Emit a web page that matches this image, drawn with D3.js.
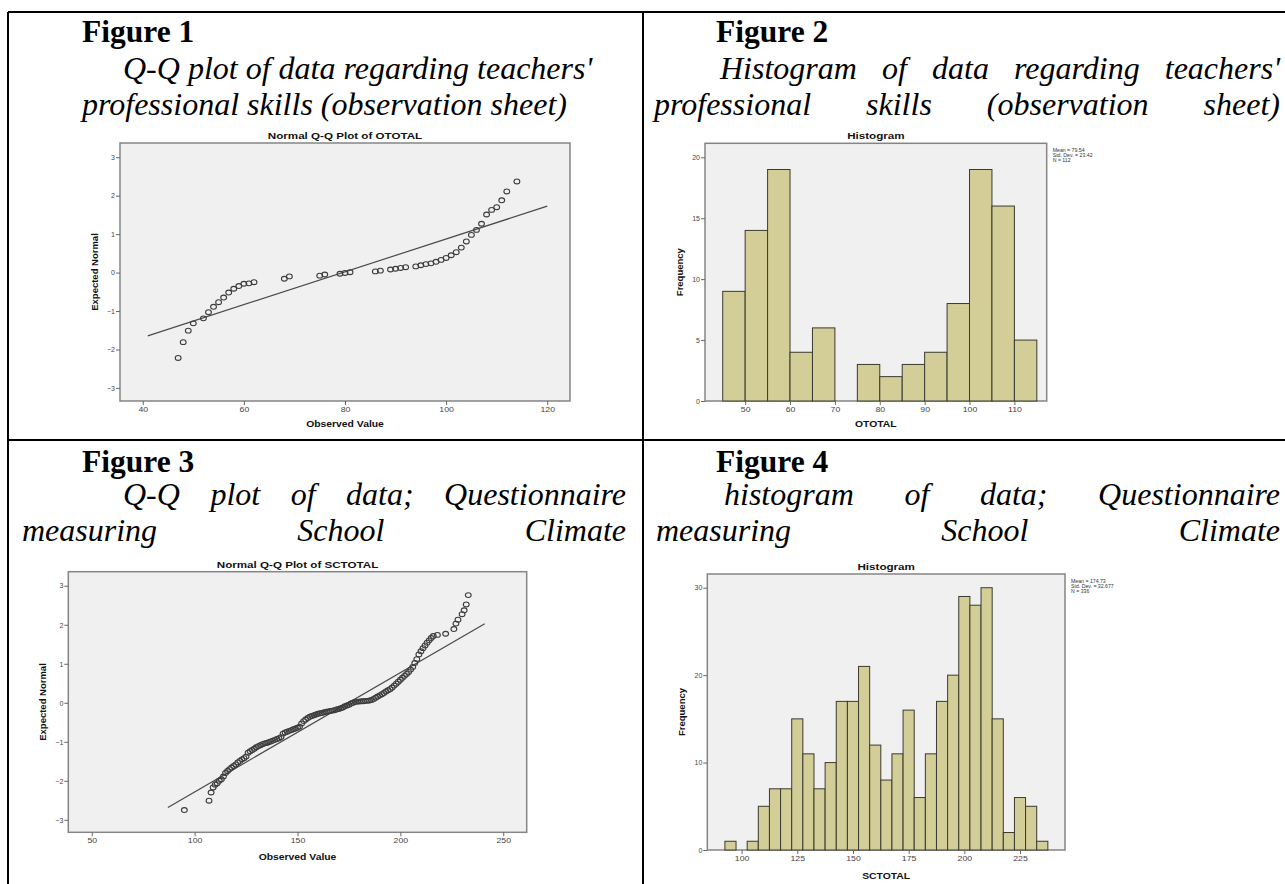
<!DOCTYPE html>
<html>
<head>
<meta charset="utf-8">
<script src="https://cdn.jsdelivr.net/npm/d3@7"></script>
<style>
  body { margin: 0; background: #fff; }
  svg { display: block; }
</style>
</head>
<body>
<svg id="page" width="1285" height="884"></svg>
<script>
// ---- data ----
const qq1Observed = [47, 48, 49, 50, 52, 53, 54, 55, 56, 57, 58, 59, 60, 61, 62, 68, 69, 75, 76, 79, 80, 81,
  86, 87, 89, 90, 91, 92, 94, 95, 96, 97, 98, 99, 100, 101, 102, 103, 104, 105, 106, 107, 108, 109, 110, 111, 112, 114];
const qq1Expected = [-2.22, -1.81, -1.51, -1.32, -1.19, -1.03, -0.89, -0.77, -0.65, -0.52, -0.42, -0.35, -0.29, -0.28, -0.25,
  -0.16, -0.10, -0.08, -0.05, -0.03, -0.01, 0.01, 0.03, 0.05, 0.08, 0.10, 0.12, 0.14, 0.16, 0.19, 0.22, 0.24, 0.28, 0.33,
  0.38, 0.45, 0.53, 0.65, 0.81, 0.98, 1.11, 1.27, 1.51, 1.63, 1.70, 1.88, 2.11, 2.37];

const hist1BinStart = [45, 50, 55, 60, 65, 70, 75, 80, 85, 90, 95, 100, 105, 110];
const hist1Counts = [9, 14, 19, 4, 6, 0, 3, 2, 3, 4, 8, 19, 16, 5];

const qq2Observed = [95, 107, 108, 109, 110, 111, 112, 113, 114, 115, 116, 117, 118, 119, 120, 121, 122, 123, 124, 125,
  126, 127, 128, 129, 130, 131, 132, 133, 134, 135, 136, 137, 138, 139, 140, 141, 142, 143, 144, 145, 146, 147, 148, 149,
  150, 151, 152, 153, 154, 155, 156, 157, 158, 159, 160, 161, 162, 163, 164, 165, 166, 167, 168, 169, 170, 171, 172, 173,
  174, 175, 176, 177, 178, 179, 180, 181, 182, 183, 184, 185, 186, 187, 188, 189, 190, 191, 192, 193, 194, 195, 196, 197,
  198, 199, 200, 201, 202, 203, 204, 205, 206, 207, 208, 209, 210, 211, 212, 213, 214, 215, 216, 218, 222, 226, 227, 228,
  230, 231, 232, 233];
const qq2Expected = [-2.75, -2.51, -2.30, -2.17, -2.10, -2.06, -2.00, -1.96, -1.89, -1.80, -1.75, -1.70, -1.66, -1.62,
  -1.58, -1.53, -1.49, -1.45, -1.42, -1.38, -1.28, -1.24, -1.21, -1.18, -1.14, -1.11, -1.09, -1.06, -1.04, -1.03, -1.01,
  -0.99, -0.97, -0.95, -0.93, -0.91, -0.88, -0.79, -0.76, -0.74, -0.72, -0.70, -0.68, -0.66, -0.64, -0.61, -0.53, -0.47,
  -0.43, -0.39, -0.36, -0.34, -0.32, -0.30, -0.28, -0.27, -0.26, -0.24, -0.23, -0.22, -0.21, -0.20, -0.19, -0.17, -0.16,
  -0.14, -0.12, -0.09, -0.07, -0.05, -0.02, 0.00, 0.02, 0.03, 0.03, 0.04, 0.04, 0.05, 0.05, 0.06, 0.07, 0.10, 0.13, 0.16,
  0.19, 0.22, 0.25, 0.29, 0.32, 0.35, 0.39, 0.44, 0.49, 0.54, 0.59, 0.64, 0.69, 0.74, 0.79, 0.85, 0.92, 1.02, 1.12, 1.24,
  1.32, 1.40, 1.47, 1.54, 1.60, 1.66, 1.71, 1.74, 1.77, 1.89, 2.03, 2.13, 2.27, 2.37, 2.52, 2.76];

const hist2BinStart = [92.5, 97.5, 102.5, 107.5, 112.5, 117.5, 122.5, 127.5, 132.5, 137.5, 142.5, 147.5, 152.5, 157.5,
  162.5, 167.5, 172.5, 177.5, 182.5, 187.5, 192.5, 197.5, 202.5, 207.5, 212.5, 217.5, 222.5, 227.5, 232.5];
const hist2Counts = [1, 0, 1, 5, 7, 7, 15, 11, 7, 10, 17, 17, 21, 12, 8, 11, 16, 6, 11, 17, 20, 29, 28, 30, 15, 2, 6, 5, 1];

const stats1 = { mean: 79.54, sd: 23.42, n: 112, sdText: "23.42" };
const stats2 = { mean: 174.73, sd: 32.677, n: 336, sdText: "32.677" };

const qqYTicks = [-3, -2, -1, 0, 1, 2, 3];
const qq1XTicks = [40, 60, 80, 100, 120];
const qq2XTicks = [50, 100, 150, 200, 250];
const hist1XTicks = [50, 60, 70, 80, 90, 100, 110];
const hist1YTicks = [0, 5, 10, 15, 20];
const hist2XTicks = [100, 125, 150, 175, 200, 225];
const hist2YTicks = [0, 10, 20, 30];

const captions = [
  { head: "Figure 1", hx: 82, hy: 42, lines: [
    { text: "Q-Q plot of data regarding teachers'", x0: 123, x1: 595, y: 79, justify: false },
    { text: "professional skills (observation sheet)", x0: 82, x1: 568, y: 115, justify: false }] },
  { head: "Figure 2", hx: 716, hy: 42, lines: [
    { text: "Histogram of data regarding teachers'", x0: 720, x1: 1280, y: 79, justify: true },
    { text: "professional skills (observation sheet)", x0: 654, x1: 1280, y: 115, justify: true }] },
  { head: "Figure 3", hx: 82, hy: 472, lines: [
    { text: "Q-Q plot of data; Questionnaire", x0: 123, x1: 626, y: 505, justify: true },
    { text: "measuring School Climate", x0: 22, x1: 626, y: 541, justify: true }] },
  { head: "Figure 4", hx: 716, hy: 472, lines: [
    { text: "histogram of data; Questionnaire", x0: 724, x1: 1280, y: 505, justify: true },
    { text: "measuring School Climate", x0: 656, x1: 1280, y: 541, justify: true }] }
];

const svg = d3.select("#page");
const SX = 1.25; // the SPSS pictures are stretched sideways

// table grid
const grid = svg.append("g").attr("stroke", "#000").attr("stroke-width", 2);
grid.append("line").attr("x1", 8).attr("x2", 1285).attr("y1", 12).attr("y2", 12);
grid.append("line").attr("x1", 8).attr("x2", 1285).attr("y1", 440).attr("y2", 440);
grid.append("line").attr("x1", 8).attr("x2", 8).attr("y1", 12).attr("y2", 884);
grid.append("line").attr("x1", 643).attr("x2", 643).attr("y1", 12).attr("y2", 884);

// captions
captions.forEach(c => {
  svg.append("text").attr("x", c.hx).attr("y", c.hy)
    .attr("font-family", "Liberation Serif").attr("font-weight", "bold").attr("font-size", 31.5)
    .text(c.head);
  c.lines.forEach(l => {
    const words = l.text.split(" ");
    const tg = svg.append("g").attr("font-family", "Liberation Serif").attr("font-style", "italic").attr("font-size", 32);
    const nodes = words.map(w => tg.append("text").attr("y", l.y).text(w));
    const widths = nodes.map(n => n.node().getComputedTextLength());
    const total = d3.sum(widths);
    const gap = l.justify ? (l.x1 - l.x0 - total) / (words.length - 1) : 8;
    let x = l.x0;
    nodes.forEach((n, i) => { n.attr("x", x); x += widths[i] + gap; });
  });
});

function stretchedText(g, x, y, str, size, anchor, weight) {
  return g.append("text")
    .attr("transform", `translate(${x},${y}) scale(${SX},1)`)
    .attr("text-anchor", anchor)
    .attr("font-family", "Liberation Sans")
    .attr("font-size", size)
    .attr("font-weight", weight || "normal")
    .attr("fill", weight === "bold" ? "#111" : "#333")
    .text(str);
}

function frame(box, title, xLabel, yLabel, labelY) {
  const g = svg.append("g");
  g.append("rect").attr("x", box.x0).attr("y", box.y0)
    .attr("width", box.x1 - box.x0).attr("height", box.y1 - box.y0)
    .attr("fill", "#f0f0f0").attr("stroke", "#858585").attr("stroke-width", 1.5);
  stretchedText(g, (box.x0 + box.x1) / 2, box.y0 - 4, title, 9.3, "middle", "bold");
  stretchedText(g, (box.x0 + box.x1) / 2, labelY, xLabel, 8.3, "middle", "bold");
  g.append("text")
    .attr("transform", `translate(${box.x0 - 22},${(box.y0 + box.y1) / 2}) rotate(-90) scale(1,${SX * 0.84})`)
    .attr("text-anchor", "middle").attr("font-family", "Liberation Sans")
    .attr("font-size", 9.5).attr("font-weight", "bold").attr("fill", "#111")
    .text(yLabel);
  return g;
}

function axes(g, box, x, y, xTicks, yTicks) {
  const ax = g.append("g").attr("transform", `translate(0,${box.y1})`)
    .call(d3.axisBottom(x).tickValues(xTicks).tickFormat(d3.format("d")).tickSize(4).tickSizeOuter(0).tickPadding(2));
  const ay = g.append("g").attr("transform", `translate(${box.x0},0)`)
    .call(d3.axisLeft(y).tickValues(yTicks).tickFormat(d3.format("d")).tickSize(4).tickSizeOuter(0).tickPadding(1));
  [ax, ay].forEach(a => {
    a.select(".domain").remove();
    a.selectAll(".tick line").attr("stroke", "#666");
    a.selectAll(".tick text").attr("font-family", "Liberation Sans").attr("font-size", 7).attr("fill", "#444");
  });
  ax.selectAll(".tick text").attr("transform", `scale(${SX},1)`).attr("x", 0);
}

function qqPanel(box, xDomain, yDomain, obs, expd, st, lineX, xTicks, title, labelY) {
  const g = frame(box, title, "Observed Value", "Expected Normal", labelY);
  const x = d3.scaleLinear().domain(xDomain).range([box.x0, box.x1]);
  const y = d3.scaleLinear().domain(yDomain).range([box.y1, box.y0]);
  axes(g, box, x, y, xTicks, qqYTicks);
  g.append("line")
    .attr("x1", x(lineX[0])).attr("y1", y((lineX[0] - st.mean) / st.sd))
    .attr("x2", x(lineX[1])).attr("y2", y((lineX[1] - st.mean) / st.sd))
    .attr("stroke", "#4a4a4a").attr("stroke-width", 1.2);
  g.selectAll("ellipse.pt").data(obs).enter().append("ellipse")
    .attr("class", "pt")
    .attr("cx", d => x(d)).attr("cy", (d, i) => y(expd[i]))
    .attr("rx", 2.9).attr("ry", 2.4)
    .attr("fill", "none").attr("stroke", "#3c3c3c").attr("stroke-width", 1.1);
}

function histPanel(box, xDomain, yDomain, starts, counts, width, st, xTicks, yTicks, xLabel, labelY) {
  const g = frame(box, "Histogram", xLabel, "Frequency", labelY);
  const x = d3.scaleLinear().domain(xDomain).range([box.x0, box.x1]);
  const y = d3.scaleLinear().domain(yDomain).range([box.y1, box.y0]);
  const bins = starts.map((s, i) => ({ s, c: counts[i] })).filter(b => b.c > 0);
  g.selectAll("rect.bar").data(bins).enter().append("rect")
    .attr("class", "bar")
    .attr("x", d => x(d.s)).attr("width", d => x(d.s + width) - x(d.s))
    .attr("y", d => y(d.c))
    .attr("height", d => y(0) - y(d.c))
    .attr("fill", "#d3ce98").attr("stroke", "#3a3a30").attr("stroke-width", 1);
  axes(g, box, x, y, xTicks, yTicks);
  const rows = [`Mean = ${st.mean}`, `Std. Dev. = ${st.sdText}`, `N = ${st.n}`];
  rows.forEach((r, i) => {
    g.append("text")
      .attr("x", box.x1 + 6).attr("y", box.y0 + 8.5 + i * 5)
      .attr("font-family", "Liberation Sans").attr("font-size", 5.2).attr("fill", "#333")
      .text(r);
  });
}

qqPanel({ x0: 120, x1: 570, y0: 143, y1: 401 }, [35.5, 124.5], [-3.34, 3.37],
  qq1Observed, qq1Expected, stats1, [41, 120], qq1XTicks, "Normal Q-Q Plot of OTOTAL", 427);
histPanel({ x0: 705, x1: 1046.7, y0: 143.3, y1: 401 }, [41.05, 117.2], [0, 21.15],
  hist1BinStart, hist1Counts, 5, stats1, hist1XTicks, hist1YTicks, "OTOTAL", 427);
qqPanel({ x0: 68.3, x1: 526.7, y0: 571.7, y1: 832.3 }, [38.6, 261.4], [-3.32, 3.36],
  qq2Observed, qq2Expected, stats2, [87, 241], qq2XTicks, "Normal Q-Q Plot of SCTOTAL", 860);
histPanel({ x0: 707.3, x1: 1065, y0: 574, y1: 850 }, [84.6, 245.2], [0, 31.57],
  hist2BinStart, hist2Counts, 5, stats2, hist2XTicks, hist2YTicks, "SCTOTAL", 879);
</script>
</body>
</html>
